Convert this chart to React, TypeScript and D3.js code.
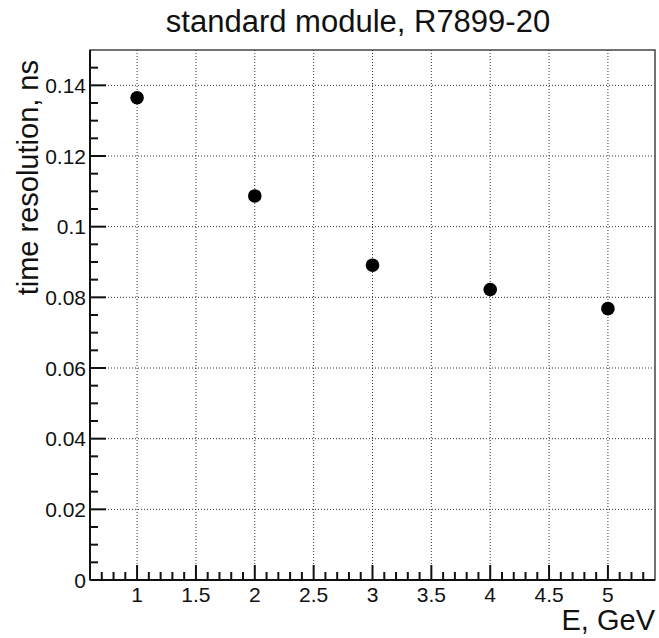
import React from "react";
import * as d3 from "d3";

const energies = [1, 2, 3, 4, 5];
const resolutions = [0.1365, 0.1087, 0.0891, 0.0822, 0.0768];
const xTicks = [1, 1.5, 2, 2.5, 3, 3.5, 4, 4.5, 5];
const yTicks = [0, 0.02, 0.04, 0.06, 0.08, 0.1, 0.12, 0.14];
const title = "standard module, R7899-20";
const xLabel = "E, GeV";
const yLabel = "time resolution, ns";

const W = 659;
const H = 638;
const L = 90, R = 655, T = 50, B = 580;

export default function App() {
  const x = d3.scaleLinear().domain([0.6, 5.4]).range([L, R]);
  const y = d3.scaleLinear().domain([0, 0.15]).range([B, T]);
  const xMinor = d3.range(7, 54).map((v) => v / 10).filter((v) => Math.abs(v * 2 - Math.round(v * 2)) > 1e-6);
  const yMinor = d3.range(1, 30).map((v) => v * 0.005).filter((v) => Math.abs(v * 50 - Math.round(v * 50)) > 1e-6);
  const font = "'Liberation Sans', Arial, Helvetica, sans-serif";
  return (
    <svg width={W} height={H} style={{ position: "absolute", left: 0, top: 0, background: "#fff" }} fontFamily={font}>
      <rect x={0} y={0} width={W} height={H} fill="#fff" />
      {/* grid */}
      {xTicks.map((t) => (
        <line key={"gx" + t} x1={x(t)} x2={x(t)} y1={T} y2={B} stroke="#333" strokeWidth={1} strokeDasharray="1 2" />
      ))}
      {yTicks.filter((t) => t > 0).map((t) => (
        <line key={"gy" + t} x1={L} x2={R} y1={y(t)} y2={y(t)} stroke="#333" strokeWidth={1} strokeDasharray="1 2" />
      ))}
      {/* frame */}
      <rect x={L} y={T} width={R - L} height={B - T} fill="none" stroke="#444" strokeWidth={1.5} />
      <line x1={L} x2={L} y1={T} y2={B} stroke="#111" strokeWidth={2} />
      <line x1={L} x2={R} y1={B} y2={B} stroke="#111" strokeWidth={2} />
      {/* y ticks */}
      {yTicks.map((t) => (
        <line key={"yt" + t} x1={L} x2={L + 16} y1={y(t)} y2={y(t)} stroke="#111" strokeWidth={2} />
      ))}
      {yMinor.map((t) => (
        <line key={"ym" + t} x1={L} x2={L + 8} y1={y(t)} y2={y(t)} stroke="#111" strokeWidth={2} />
      ))}
      {/* x ticks */}
      {xTicks.map((t) => (
        <line key={"xt" + t} x1={x(t)} x2={x(t)} y1={B} y2={B - 15} stroke="#111" strokeWidth={2} />
      ))}
      {xMinor.map((t) => (
        <line key={"xm" + t} x1={x(t)} x2={x(t)} y1={B} y2={B - 8} stroke="#111" strokeWidth={2} />
      ))}
      {/* tick labels */}
      {yTicks.map((t) => (
        <text key={"yl" + t} x={L - 4} y={y(t)} dy="0.36em" textAnchor="end" fontSize={21} fill="#111">
          {d3.format("~g")(t)}
        </text>
      ))}
      {xTicks.map((t) => (
        <text key={"xl" + t} x={x(t)} y={602} textAnchor="middle" fontSize={21} fill="#111">
          {d3.format("~g")(t)}
        </text>
      ))}
      {/* points */}
      {energies.map((e, i) => (
        <circle key={"p" + i} cx={x(e)} cy={y(resolutions[i])} r={6.8} fill="#000" />
      ))}
      {/* titles */}
      <text x={358} y={32} textAnchor="middle" fontSize={31} fill="#111">{title}</text>
      <text x={R} y={630} textAnchor="end" fontSize={29} fill="#111">{xLabel}</text>
      <text transform={`translate(38,60) rotate(-90)`} textAnchor="end" fontSize={29} fill="#111">{yLabel}</text>
    </svg>
  );
}
